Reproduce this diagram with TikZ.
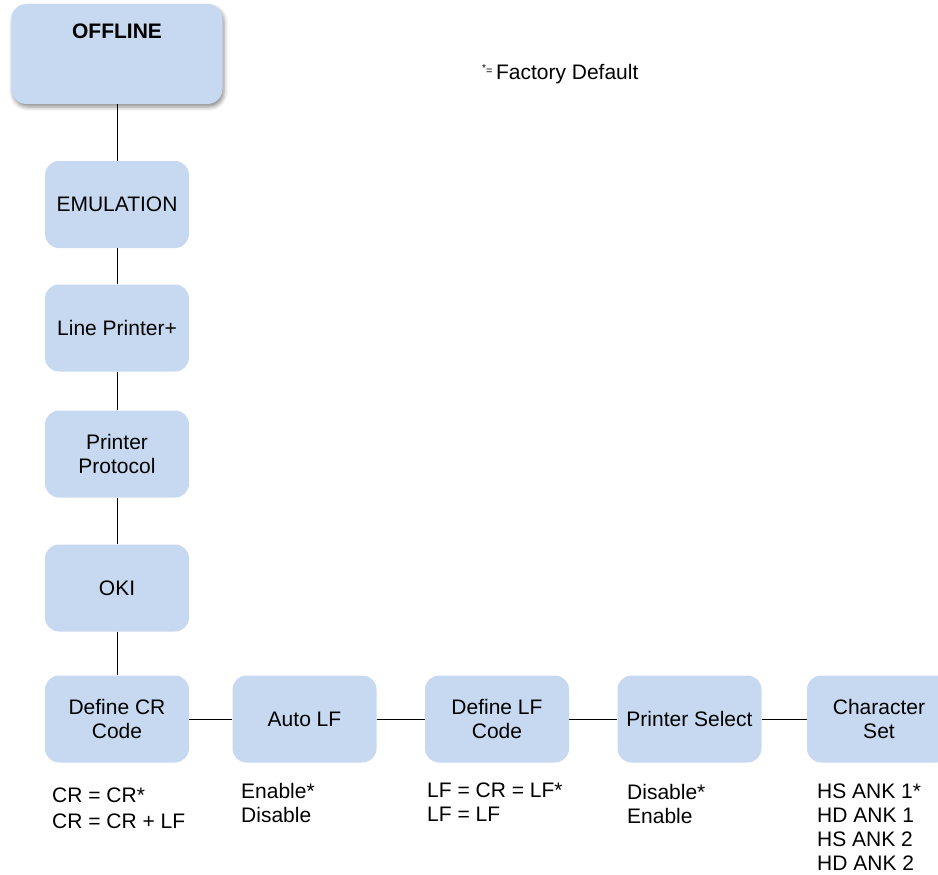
\documentclass[tikz,border=0pt]{standalone}
\usepackage{fontspec}
\setmainfont{Liberation Sans}
\usetikzlibrary{shadows.blur}
\definecolor{boxblue}{HTML}{C6D9F1}
\begin{document}
\begin{tikzpicture}[x=1pt,y=-1pt,
  menubox/.style={draw=none, fill=boxblue, rounded corners=14pt, minimum width=144pt, minimum height=87pt, align=center, inner sep=2pt, font=\fontsize{21}{24}\selectfont},
  opts/.style={anchor=north west, align=left, inner sep=0pt, font=\fontsize{21}{24}\selectfont},
  conn/.style={draw=black, line width=1pt}]
\useasboundingbox (0,0) rectangle (938,875);
\node[fill=boxblue, rounded corners=15pt, minimum width=211pt, text height=35pt, text depth=65pt, inner ysep=0pt, anchor=base,
  font=\bfseries\fontsize{21}{24}\selectfont,
  blur shadow={shadow xshift=1.5pt, shadow yshift=-3pt, shadow blur radius=4pt, shadow opacity=45}] (offline) at (117,39) {OFFLINE};
\node[menubox] (emu) at (117,204.5) {EMULATION};
\node[menubox] (lp) at (117,328) {Line Printer+};
\node[menubox] (proto) at (117,454) {Printer\\Protocol};
\node[menubox] (oki) at (117,588) {OKI};
\node[menubox] (dcr) at (117,719) {Define CR\\Code};
\node[menubox] (alf) at (304.5,719) {Auto LF};
\node[menubox] (dlf) at (497,719) {Define LF\\Code};
\node[menubox] (psel) at (689.5,719) {Printer Select};
\node[menubox] (cset) at (879,719) {Character\\Set};
\draw[conn] (offline) -- (emu);
\draw[conn] (emu) -- (lp);
\draw[conn] (lp) -- (proto);
\draw[conn] (proto) -- (oki);
\draw[conn] (oki) -- (dcr);
\draw[conn] (dcr) -- (alf);
\draw[conn] (alf) -- (dlf);
\draw[conn] (dlf) -- (psel);
\draw[conn] (psel) -- (cset);
\node[opts, font=\fontsize{21}{26}\selectfont] (o1) at (52,788) {CR = CR*\\CR = CR + LF};
\node[opts] (o2) at (241,783) {Enable*\\Disable};
\node[opts] (o3) at (427,783) {LF = CR = LF*\\LF = LF};
\node[opts] (o4) at (627,784) {Disable*\\Enable};
\node[opts] (o5) at (817,784) {HS ANK 1*\\HD ANK 1\\HS ANK 2\\HD ANK 2};
\node[anchor=base west, inner sep=0pt, font=\fontsize{21}{24}\selectfont] (fd) at (482,80)
  {\raisebox{8pt}{\fontsize{10}{10}\selectfont *}\raisebox{5pt}{\fontsize{11}{11}\selectfont =}\,Factory Default};
\end{tikzpicture}
\end{document}
